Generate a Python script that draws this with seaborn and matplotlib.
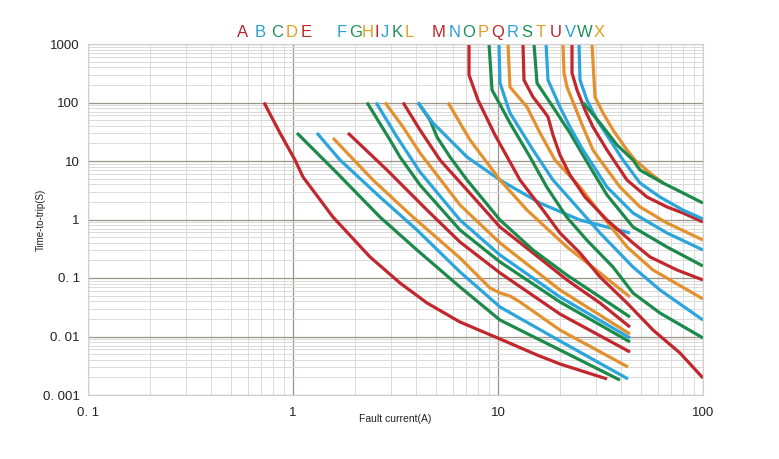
import numpy as np
import pandas as pd
import matplotlib
matplotlib.use("Agg")
import matplotlib.pyplot as plt
import seaborn as sns
from matplotlib.ticker import FixedLocator, NullFormatter, LogLocator

# ---------------- data ----------------
letters = list("ABCDEFGHIJKLMNOPQRSTUVWX")
letter_colors = ["red", "blue", "green", "orange", "red",
                 "blue", "green", "orange", "red", "blue", "green", "orange",
                 "red", "blue", "green", "orange", "red", "blue", "green", "orange",
                 "red", "blue", "green", "orange"]

A_x = [0.722, 0.864, 1.023, 1.119, 1.567, 2.375, 3.327, 4.506, 6.525, 10.23, 15.5, 20.06, 34.02]
A_y = [100, 30.1, 10.4, 5.33, 1.10, 0.229, 0.0821, 0.0374, 0.0177, 0.00907, 0.00483, 0.00339, 0.00188]
B_x = [1.046, 1.639, 2.657, 4.026, 6.525, 10.23, 20.06, 39.36]
B_y = [30.1, 6.24, 1.10, 0.301, 0.0702, 0.0191, 0.00588, 0.0018]
C_x = [1.309, 1.696, 2.657, 4.026, 6.525, 10.23, 20.06, 43.07]
C_y = [30.1, 10.4, 2.42, 0.661, 0.127, 0.0319, 0.00838, 0.00188]
D_x = [1.567, 2.456, 3.849, 6.525, 9.14, 10.23, 11.44, 12.8, 20.06, 43.07]
D_y = [24.7, 4.73, 1.10, 0.220, 0.0675, 0.0554, 0.0492, 0.0389, 0.0129, 0.00301]
E_x = [1.855, 2.874, 4.506, 6.525, 10.23, 20.06, 44.05]
E_y = [30.1, 7.02, 1.45, 0.412, 0.122, 0.0242, 0.00543]
F_x = [2.296, 2.973, 3.327, 4.165, 6.525, 10.23, 20.06, 44.05]
F_y = [100, 22.9, 11.7, 3.89, 0.661, 0.188, 0.0389, 0.00805]
G_x = [2.541, 3.216, 4.165, 6.525, 10.23, 20.06, 44.05]
G_y = [100, 25.7, 6.49, 0.98, 0.247, 0.0473, 0.00943]
H_x = [2.811, 3.441, 4.165, 6.525, 10.23, 20.06, 44.05]
H_y = [100, 38.1, 13.7, 1.77, 0.397, 0.0624, 0.0110]
I_x = [3.441, 4.165, 5.213, 7.062, 10.23, 14.82, 21.71, 31.45, 44.05]
I_y = [100, 33.9, 10.4, 3.19, 0.744, 0.268, 0.0924, 0.0374, 0.0145]
J_x = [4.072, 4.66, 5.04, 5.833, 7.062, 10.23, 14.82, 21.71, 31.45, 44.05]
J_y = [100, 50.2, 25.7, 11.7, 4.73, 0.98, 0.301, 0.112, 0.0473, 0.0215]
K_x = [4.072, 4.819, 7.062, 10.23, 16.03, 25.12, 44.05]
K_y = [100, 44.6, 11.7, 4.73, 1.91, 0.98, 0.588]
L_x = [5.703, 7.303, 10.23, 13.85, 21.71, 31.45, 44.05]
L_y = [100, 22.9, 4.73, 1.45, 0.339, 0.122, 0.0473]
M_x = [7.222, 7.222, 7.988, 9.67, 12.8, 16.58, 20.06, 25.12, 31.45, 42.59, 57.04, 77.24, 100]
M_y = [1000, 295, 110, 27.8, 4.73, 1.45, 0.588, 0.268, 0.104, 0.0374, 0.0129, 0.00522, 0.00195]
N_x = [9.04, 9.35, 11.44, 14.33, 17.29, 21.63, 27.09, 36.39, 45.56, 61.68, 100]
N_y = [1000, 164, 44.6, 11.7, 3.59, 1.10, 0.446, 0.154, 0.0554, 0.0252, 0.00943]
O_x = [10.11, 10.23, 11.44, 14.82, 18.55, 24.29, 31.45, 45.56, 61.68, 100]
O_y = [1000, 215, 66.2, 15.4, 4.73, 1.64, 0.588, 0.154, 0.0624, 0.0191]
P_x = [11.19, 11.44, 13.85, 16.03, 18.97, 25.12, 31.45, 42.59, 57.04, 100]
P_y = [1000, 184, 83.8, 30.1, 10.4, 3.59, 1.29, 0.339, 0.137, 0.0438]
Q_x = [13.24, 13.39, 14.82, 16.58, 17.54, 18.55, 20.06, 22.45, 26.57, 34.02, 45.56, 55.15, 74.68, 100]
Q_y = [1000, 242, 124, 74.4, 56.5, 27.8, 12.66, 5.77, 2.42, 0.98, 0.397, 0.229, 0.137, 0.0924]
R_x = [14.98, 15.5, 18.55, 22.45, 27.18, 34.02, 45.56, 66.74, 100]
R_y = [1000, 215, 83.8, 30.1, 9.61, 2.62, 0.744, 0.339, 0.160]
S_x = [17.15, 17.54, 20.06, 22.45, 25.98, 34.02, 45.56, 66.74, 100]
S_y = [1000, 242, 83.8, 38.1, 15.4, 3.59, 1.29, 0.588, 0.301]
T_x = [20.75, 20.99, 21.71, 23.75, 25.98, 29.07, 31.45, 39.36, 49.28, 66.74, 100]
T_y = [1000, 319, 184, 83.8, 38.1, 15.4, 10.4, 3.59, 1.64, 0.871, 0.446]
U_x = [22.96, 22.96, 24.29, 26.57, 29.07, 34.02, 42.59, 53.32, 66.74, 79.88, 100]
U_y = [1000, 319, 164, 74.4, 38.1, 15.4, 4.73, 2.42, 1.64, 1.29, 0.906]
V_x = [24.85, 25.12, 27.18, 30.4, 35.19, 40.72, 49.28, 61.68, 79.88, 100]
V_y = [1000, 242, 110, 50.2, 22.9, 10.4, 4.21, 2.42, 1.45, 1.02]
W_x = [25.98, 31.45, 38.07, 45.56, 49.28, 63.81, 79.88, 100]
W_y = [100, 44.6, 18.8, 10.4, 7.02, 4.21, 2.84, 1.91]
X_x = [28.74, 29.73, 32.53, 36.39, 42.59, 46.6, 55.15, 63.81]
X_y = [1000, 124, 66.2, 33.9, 15.4, 10.4, 6.24, 4.21]

curve_colors = {"A": "red", "B": "green", "C": "blue", "D": "orange", "E": "red",
                "F": "green", "G": "blue", "H": "orange", "I": "red", "J": "green",
                "K": "blue", "L": "orange",
                "M": "red", "N": "green", "O": "blue", "P": "orange", "Q": "red",
                "R": "green", "S": "blue", "T": "orange", "U": "red", "V": "blue",
                "W": "green", "X": "orange"}

x_tick_vals = [0.1, 1, 10, 100]
x_tick_labels = ["0. 1", "1", "10", "100"]
y_tick_vals = [0.001, 0.01, 0.1, 1, 10, 100, 1000]
y_tick_labels = ["0. 001", "0. 01", "0. 1", "1", "10", "100", "1000"]

# ---------------- styling ----------------
hexcol = {"red": "#c1272d", "green": "#1b8a4b", "blue": "#2ba5dc", "orange": "#e3912e"}
text_hex = {"red": "#b8262c", "green": "#1f8f5a", "blue": "#2a9fd6", "orange": "#e0a020"}

series = {k: (globals()[k + "_x"], globals()[k + "_y"]) for k in letters}
rows = []
for name, (xs, ys) in series.items():
    for i, (xv, yv) in enumerate(zip(xs, ys)):
        rows.append({"curve": name, "current": xv, "time": yv, "idx": i})
df = pd.DataFrame(rows)

sns.set_style("white")
plt.rcParams["font.family"] = ["Liberation Sans", "DejaVu Sans"]

fig = plt.figure(figsize=(7.79, 4.59), dpi=100)
ax = fig.add_axes([88 / 779, 1 - 395 / 459, (703 - 88) / 779, (395 - 44) / 459])

draw_order = [c for c in letters if c not in ("W", "X")] + ["X", "W"]
palette = {k: hexcol[curve_colors[k]] for k in letters}
sns.lineplot(data=df, x="current", y="time", hue="curve", hue_order=draw_order,
             palette=palette, sort=False, estimator=None, units="curve",
             legend=False, linewidth=2.3, ax=ax, solid_capstyle="butt")

ax.set_xscale("log")
ax.set_yscale("log")
ax.set_xlim(0.1, 100)
ax.set_ylim(0.001, 1000)

ax.xaxis.set_major_locator(FixedLocator(x_tick_vals))
ax.yaxis.set_major_locator(FixedLocator(y_tick_vals))
ax.xaxis.set_minor_locator(LogLocator(base=10, subs=np.arange(2, 10)))
ax.yaxis.set_minor_locator(LogLocator(base=10, subs=np.arange(2, 10)))
ax.xaxis.set_minor_formatter(NullFormatter())
ax.yaxis.set_minor_formatter(NullFormatter())
ax.set_xticklabels(x_tick_labels)
ax.set_yticklabels(y_tick_labels)
ax.tick_params(which="both", length=0)
ax.tick_params(axis="x", pad=9, labelsize=9.5, colors="#222222")
ax.tick_params(axis="y", pad=6, labelsize=9.5, colors="#222222")

ax.grid(which="major", color="#9b9788", linewidth=0.9)
ax.grid(which="minor", color="#dadada", linewidth=0.7)
ax.set_axisbelow(True)
for s in ax.spines.values():
    s.set_color("#cfcfcf")
    s.set_linewidth(0.8)

ax.set_xlabel("Fault current(A)", fontsize=7.5, labelpad=-4, color="#222222")
ax.set_ylabel("Time-to-trip(S)", fontsize=7, labelpad=-2, color="#222222")

letter_px = [243, 260, 277, 292, 306, 342, 356, 368, 377, 385, 397, 409,
             439, 455, 469, 483, 498, 513, 527, 541, 556, 570, 585, 599]
for ch, col, px in zip(letters, letter_colors, letter_px):
    fig.text(px / 779, 1 - 37 / 459, ch, color=text_hex[col], fontsize=12,
             ha="center", va="baseline")

fig.savefig("out.png", dpi=100)
